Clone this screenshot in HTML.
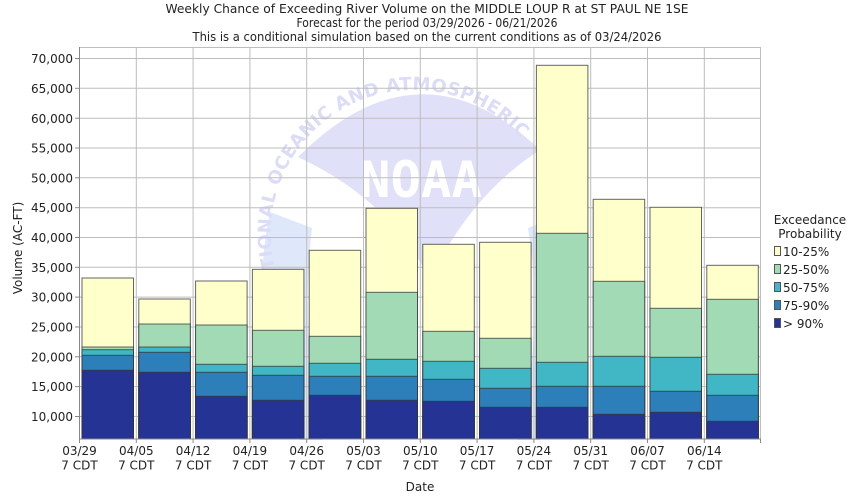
<!DOCTYPE html>
<html><head><meta charset="utf-8"><style>
html,body{margin:0;padding:0;background:#fff;}
svg{display:block;font-family:"DejaVu Sans","Liberation Sans",sans-serif;}
</style></head><body>
<svg width="850" height="500" viewBox="0 0 850 500" xmlns="http://www.w3.org/2000/svg">
<rect width="850" height="500" fill="#fff"/>
<!-- watermark -->
<g>
<path d="M270,212 Q245,330 300,440 L322,440 Q300,330 312,228 Z" fill="#dfe8fb"/>
<path d="M570,212 Q595,330 540,440 L518,440 Q545,330 528,228 Z" fill="#dfe8fb"/>
<path d="M298,157 Q420,35 540,150 Q470,195 430,280 Q390,200 298,157 Z" fill="#e0e0f8"/>
<text x="421" y="197" text-anchor="middle" font-size="50" font-weight="bold" fill="#fff" font-family="DejaVu Sans Mono, monospace" textLength="122" lengthAdjust="spacingAndGlyphs">NOAA</text>
<defs><path id="arc" d="M285,295 A143,143 0 0 1 525,143"/></defs>
<text font-size="18" font-weight="bold" fill="#dcdcf6"><textPath href="#arc" textLength="410">NATIONAL OCEANIC AND ATMOSPHERIC</textPath></text>
</g>
<!-- grid -->
<g stroke="#bdbdbd" stroke-width="1">
<line x1="80" x2="761" y1="58.5" y2="58.5"/><line x1="80" x2="761" y1="88.3" y2="88.3"/>
<line x1="80" x2="761" y1="118.2" y2="118.2"/><line x1="80" x2="761" y1="148" y2="148"/>
<line x1="80" x2="761" y1="177.8" y2="177.8"/><line x1="80" x2="761" y1="207.7" y2="207.7"/>
<line x1="80" x2="761" y1="237.5" y2="237.5"/><line x1="80" x2="761" y1="267.3" y2="267.3"/>
<line x1="80" x2="761" y1="297.1" y2="297.1"/><line x1="80" x2="761" y1="327" y2="327"/>
<line x1="80" x2="761" y1="356.8" y2="356.8"/><line x1="80" x2="761" y1="386.6" y2="386.6"/>
<line x1="80" x2="761" y1="416.5" y2="416.5"/>
<line x1="136.3" x2="136.3" y1="47" y2="439"/><line x1="193.1" x2="193.1" y1="47" y2="439"/>
<line x1="249.9" x2="249.9" y1="47" y2="439"/><line x1="306.7" x2="306.7" y1="47" y2="439"/>
<line x1="363.5" x2="363.5" y1="47" y2="439"/><line x1="420.3" x2="420.3" y1="47" y2="439"/>
<line x1="477.1" x2="477.1" y1="47" y2="439"/><line x1="533.9" x2="533.9" y1="47" y2="439"/>
<line x1="590.7" x2="590.7" y1="47" y2="439"/><line x1="647.5" x2="647.5" y1="47" y2="439"/>
<line x1="704.3" x2="704.3" y1="47" y2="439"/>
<line x1="80" x2="761" y1="47.5" y2="47.5"/>
<line x1="760.5" x2="760.5" y1="47" y2="439"/>
</g>
<!-- bars -->
<g stroke="#333" stroke-width="1" stroke-opacity="0.75">
<g transform="translate(82,0)">
<rect x="0" y="278" width="51.5" height="161" fill="#ffffcc"/>
<rect x="0" y="347" width="51.5" height="92" fill="#a1dab4"/>
<rect x="0" y="349.7" width="51.5" height="89.3" fill="#41b6c4"/>
<rect x="0" y="355.3" width="51.5" height="83.7" fill="#2c7fb8"/>
<rect x="0" y="370.3" width="51.5" height="68.7" fill="#253494"/>
</g>
<g transform="translate(138.8,0)">
<rect x="0" y="299" width="51.5" height="140" fill="#ffffcc"/>
<rect x="0" y="324" width="51.5" height="115" fill="#a1dab4"/>
<rect x="0" y="347" width="51.5" height="92" fill="#41b6c4"/>
<rect x="0" y="352.3" width="51.5" height="86.7" fill="#2c7fb8"/>
<rect x="0" y="372.3" width="51.5" height="66.7" fill="#253494"/>
</g>
<g transform="translate(195.6,0)">
<rect x="0" y="281" width="51.5" height="158" fill="#ffffcc"/>
<rect x="0" y="325" width="51.5" height="114" fill="#a1dab4"/>
<rect x="0" y="364.3" width="51.5" height="74.7" fill="#41b6c4"/>
<rect x="0" y="372.3" width="51.5" height="66.7" fill="#2c7fb8"/>
<rect x="0" y="396.3" width="51.5" height="42.7" fill="#253494"/>
</g>
<g transform="translate(252.4,0)">
<rect x="0" y="269.3" width="51.5" height="169.7" fill="#ffffcc"/>
<rect x="0" y="330.3" width="51.5" height="108.7" fill="#a1dab4"/>
<rect x="0" y="366.3" width="51.5" height="72.7" fill="#41b6c4"/>
<rect x="0" y="375.3" width="51.5" height="63.7" fill="#2c7fb8"/>
<rect x="0" y="400.3" width="51.5" height="38.7" fill="#253494"/>
</g>
<g transform="translate(309.2,0)">
<rect x="0" y="250.3" width="51.5" height="188.7" fill="#ffffcc"/>
<rect x="0" y="336.3" width="51.5" height="102.7" fill="#a1dab4"/>
<rect x="0" y="363.3" width="51.5" height="75.7" fill="#41b6c4"/>
<rect x="0" y="376.3" width="51.5" height="62.7" fill="#2c7fb8"/>
<rect x="0" y="395.3" width="51.5" height="43.7" fill="#253494"/>
</g>
<g transform="translate(366,0)">
<rect x="0" y="208.3" width="51.5" height="230.7" fill="#ffffcc"/>
<rect x="0" y="292.3" width="51.5" height="146.7" fill="#a1dab4"/>
<rect x="0" y="359.3" width="51.5" height="79.7" fill="#41b6c4"/>
<rect x="0" y="376.3" width="51.5" height="62.7" fill="#2c7fb8"/>
<rect x="0" y="400.3" width="51.5" height="38.7" fill="#253494"/>
</g>
<g transform="translate(422.8,0)">
<rect x="0" y="244.3" width="51.5" height="194.7" fill="#ffffcc"/>
<rect x="0" y="331.3" width="51.5" height="107.7" fill="#a1dab4"/>
<rect x="0" y="361.3" width="51.5" height="77.7" fill="#41b6c4"/>
<rect x="0" y="379.3" width="51.5" height="59.7" fill="#2c7fb8"/>
<rect x="0" y="401.3" width="51.5" height="37.7" fill="#253494"/>
</g>
<g transform="translate(479.6,0)">
<rect x="0" y="242.3" width="51.5" height="196.7" fill="#ffffcc"/>
<rect x="0" y="338.3" width="51.5" height="100.7" fill="#a1dab4"/>
<rect x="0" y="368.3" width="51.5" height="70.7" fill="#41b6c4"/>
<rect x="0" y="388.3" width="51.5" height="50.7" fill="#2c7fb8"/>
<rect x="0" y="407.3" width="51.5" height="31.7" fill="#253494"/>
</g>
<g transform="translate(536.4,0)">
<rect x="0" y="65.3" width="51.5" height="373.7" fill="#ffffcc"/>
<rect x="0" y="233.3" width="51.5" height="205.7" fill="#a1dab4"/>
<rect x="0" y="362.3" width="51.5" height="76.7" fill="#41b6c4"/>
<rect x="0" y="386.3" width="51.5" height="52.7" fill="#2c7fb8"/>
<rect x="0" y="407.3" width="51.5" height="31.7" fill="#253494"/>
</g>
<g transform="translate(593.2,0)">
<rect x="0" y="199.3" width="51.5" height="239.7" fill="#ffffcc"/>
<rect x="0" y="281.3" width="51.5" height="157.7" fill="#a1dab4"/>
<rect x="0" y="356.3" width="51.5" height="82.7" fill="#41b6c4"/>
<rect x="0" y="386.3" width="51.5" height="52.7" fill="#2c7fb8"/>
<rect x="0" y="414.3" width="51.5" height="24.7" fill="#253494"/>
</g>
<g transform="translate(650,0)">
<rect x="0" y="207.3" width="51.5" height="231.7" fill="#ffffcc"/>
<rect x="0" y="308.3" width="51.5" height="130.7" fill="#a1dab4"/>
<rect x="0" y="357.3" width="51.5" height="81.7" fill="#41b6c4"/>
<rect x="0" y="391.3" width="51.5" height="47.7" fill="#2c7fb8"/>
<rect x="0" y="412.3" width="51.5" height="26.7" fill="#253494"/>
</g>
<g transform="translate(706.8,0)">
<rect x="0" y="265.3" width="51.5" height="173.7" fill="#ffffcc"/>
<rect x="0" y="299.3" width="51.5" height="139.7" fill="#a1dab4"/>
<rect x="0" y="374.3" width="51.5" height="64.7" fill="#41b6c4"/>
<rect x="0" y="395.3" width="51.5" height="43.7" fill="#2c7fb8"/>
<rect x="0" y="421.3" width="51.5" height="17.7" fill="#253494"/>
</g>
</g>
<!-- axes -->
<g stroke="#888" stroke-width="1">
<line x1="79.5" x2="79.5" y1="47" y2="439"/>
<line x1="79" x2="761" y1="439" y2="439"/>
<line x1="75" x2="79.5" y1="58.5" y2="58.5"/><line x1="75" x2="79.5" y1="88.3" y2="88.3"/>
<line x1="75" x2="79.5" y1="118.2" y2="118.2"/><line x1="75" x2="79.5" y1="148" y2="148"/>
<line x1="75" x2="79.5" y1="177.8" y2="177.8"/><line x1="75" x2="79.5" y1="207.7" y2="207.7"/>
<line x1="75" x2="79.5" y1="237.5" y2="237.5"/><line x1="75" x2="79.5" y1="267.3" y2="267.3"/>
<line x1="75" x2="79.5" y1="297.1" y2="297.1"/><line x1="75" x2="79.5" y1="327" y2="327"/>
<line x1="75" x2="79.5" y1="356.8" y2="356.8"/><line x1="75" x2="79.5" y1="386.6" y2="386.6"/>
<line x1="75" x2="79.5" y1="416.5" y2="416.5"/>
<line x1="79.5" x2="79.5" y1="439" y2="443"/><line x1="136.3" x2="136.3" y1="439" y2="443"/>
<line x1="193.1" x2="193.1" y1="439" y2="443"/><line x1="249.9" x2="249.9" y1="439" y2="443"/>
<line x1="306.7" x2="306.7" y1="439" y2="443"/><line x1="363.5" x2="363.5" y1="439" y2="443"/>
<line x1="420.3" x2="420.3" y1="439" y2="443"/><line x1="477.1" x2="477.1" y1="439" y2="443"/>
<line x1="533.9" x2="533.9" y1="439" y2="443"/><line x1="590.7" x2="590.7" y1="439" y2="443"/>
<line x1="647.5" x2="647.5" y1="439" y2="443"/><line x1="704.3" x2="704.3" y1="439" y2="443"/>
<line x1="760.5" x2="760.5" y1="439" y2="443"/>
</g>
<!-- y labels -->
<g font-size="12" fill="#222" text-anchor="end">
<text x="73" y="63">70,000</text><text x="73" y="93">65,000</text>
<text x="73" y="123">60,000</text><text x="73" y="152.5">55,000</text>
<text x="73" y="182.3">50,000</text><text x="73" y="212.2">45,000</text>
<text x="73" y="242">40,000</text><text x="73" y="271.8">35,000</text>
<text x="73" y="301.6">30,000</text><text x="73" y="331.5">25,000</text>
<text x="73" y="361.3">20,000</text><text x="73" y="391.1">15,000</text>
<text x="73" y="421">10,000</text>
</g>
<!-- x labels -->
<g font-size="12" fill="#222" text-anchor="middle">
<text x="79.5" y="455">03/29</text><text x="79.5" y="469.5">7 CDT</text>
<text x="136.3" y="455">04/05</text><text x="136.3" y="469.5">7 CDT</text>
<text x="193.1" y="455">04/12</text><text x="193.1" y="469.5">7 CDT</text>
<text x="249.9" y="455">04/19</text><text x="249.9" y="469.5">7 CDT</text>
<text x="306.7" y="455">04/26</text><text x="306.7" y="469.5">7 CDT</text>
<text x="363.5" y="455">05/03</text><text x="363.5" y="469.5">7 CDT</text>
<text x="420.3" y="455">05/10</text><text x="420.3" y="469.5">7 CDT</text>
<text x="477.1" y="455">05/17</text><text x="477.1" y="469.5">7 CDT</text>
<text x="533.9" y="455">05/24</text><text x="533.9" y="469.5">7 CDT</text>
<text x="590.7" y="455">05/31</text><text x="590.7" y="469.5">7 CDT</text>
<text x="647.5" y="455">06/07</text><text x="647.5" y="469.5">7 CDT</text>
<text x="704.3" y="455">06/14</text><text x="704.3" y="469.5">7 CDT</text>
<text x="420" y="491">Date</text>
</g>
<text transform="translate(22,248) rotate(-90)" font-size="12" fill="#222" text-anchor="middle">Volume (AC-FT)</text>
<!-- title -->
<g font-size="12" fill="#222" text-anchor="middle">
<text x="427" y="13" textLength="523" lengthAdjust="spacingAndGlyphs">Weekly Chance of Exceeding River Volume on the MIDDLE LOUP R at ST PAUL NE 1SE</text>
<text x="427" y="27" textLength="261" lengthAdjust="spacingAndGlyphs">Forecast for the period 03/29/2026 - 06/21/2026</text>
<text x="427" y="41" textLength="469" lengthAdjust="spacingAndGlyphs">This is a conditional simulation based on the current conditions as of 03/24/2026</text>
</g>
<!-- legend -->
<g font-size="12" fill="#222">
<text x="810" y="224" text-anchor="middle">Exceedance</text>
<text x="810" y="238" text-anchor="middle">Probability</text>
<g stroke="#555" stroke-width="1">
<rect x="774.5" y="246.5" width="6" height="9" fill="#ffffcc"/>
<rect x="774.5" y="264.5" width="6" height="9" fill="#a1dab4"/>
<rect x="774.5" y="282.5" width="6" height="9" fill="#41b6c4"/>
<rect x="774.5" y="300.5" width="6" height="9" fill="#2c7fb8"/>
<rect x="774.5" y="318.5" width="6" height="9" fill="#253494"/>
</g>
<text x="783" y="256">10-25%</text>
<text x="783" y="274">25-50%</text>
<text x="783" y="292">50-75%</text>
<text x="783" y="310">75-90%</text>
<text x="783" y="328">&gt; 90%</text>
</g>
</svg>
</body></html>
